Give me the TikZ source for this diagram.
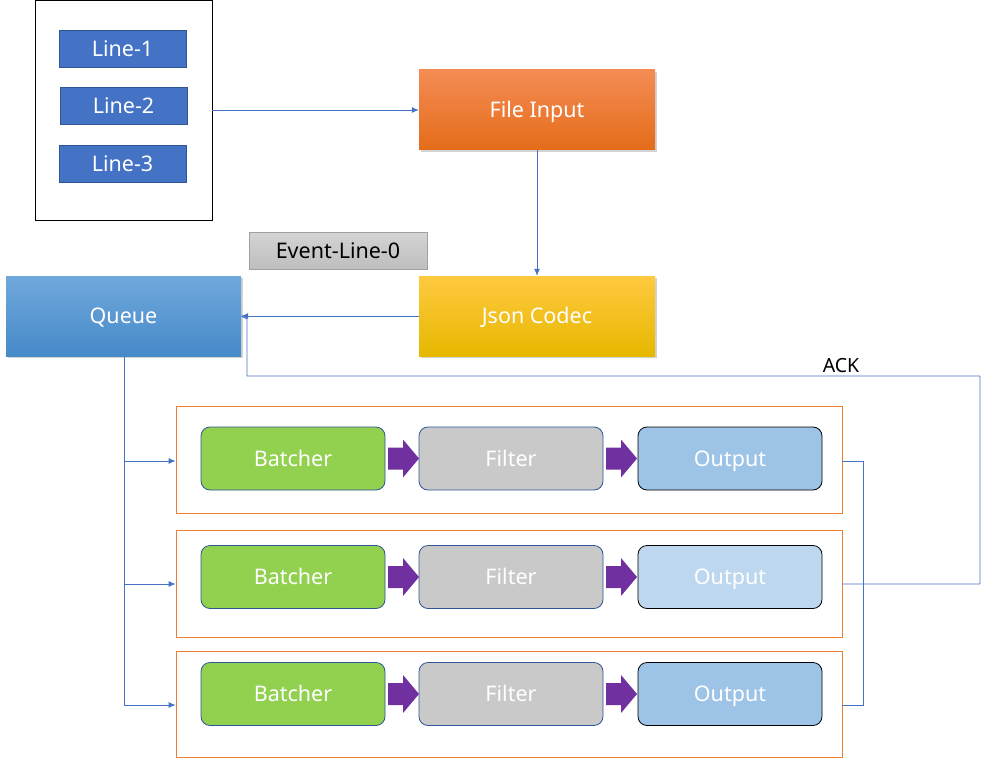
\documentclass[tikz,border=0pt]{standalone}
\usepackage{fontspec}
\setmainfont{Noto Sans}
\usetikzlibrary{shapes.arrows,shadows,arrows.meta}
\definecolor{lblue}{HTML}{4472C4}
\definecolor{lbord}{HTML}{2F5597}
\definecolor{orng}{HTML}{ED7D31}
\definecolor{grn}{HTML}{92D050}
\definecolor{gry}{HTML}{C9C9C9}
\definecolor{outb}{HTML}{9DC3E6}
\definecolor{outl}{HTML}{BDD7EE}
\definecolor{purp}{HTML}{7030A0}
\definecolor{fiT}{HTML}{F48C54}
\definecolor{fiM}{HTML}{F47C30}
\definecolor{fiB}{HTML}{E46C1A}
\definecolor{jcT}{HTML}{FFC940}
\definecolor{jcM}{HTML}{FFC000}
\definecolor{jcB}{HTML}{E6B800}
\definecolor{qT}{HTML}{70A8DC}
\definecolor{qM}{HTML}{5B9BD7}
\definecolor{qB}{HTML}{468AC8}
\definecolor{evT}{HTML}{D4D4D4}
\definecolor{evB}{HTML}{BEBEBE}
\definecolor{evD}{HTML}{A0A0A0}
\begin{document}
\begin{tikzpicture}[x=1pt,y=-1pt,
  txt/.style={font=\fontsize{21.5}{25}\selectfont,text height=15.4pt,text depth=0pt},
  linebox/.style={draw=lbord,fill=lblue,text=white,txt,minimum width=127pt,minimum height=37pt,inner sep=0pt},
  bigbox/.style={txt,text=white,minimum width=236pt,minimum height=80pt,inner sep=0pt,
     drop shadow={shadow xshift=2pt,shadow yshift=-2pt,opacity=0.35}},
  stage/.style={draw=lbord,rounded corners=9pt,txt,text=white,minimum width=184pt,minimum height=63pt,inner sep=0pt,line width=0.8pt},
  row/.style={draw=orng,line width=0.8pt,minimum width=666pt,inner sep=0pt},
  conn/.style={draw=lblue,line width=0.8pt},
  arr/.style={conn,-{Latex[length=7pt,width=6pt]}},
  parr/.style={fill=purp}
]
\useasboundingbox (0,0) rectangle (981,759);
% source box
\node[draw=black,line width=0.9pt,minimum width=177pt,minimum height=220pt,inner sep=0pt] (src) at (123.5,110) {};
\node[linebox] (l1) at (122.5,48.5) {Line-1};
\node[linebox] (l2) at (123.5,106) {Line-2};
\node[linebox] (l3) at (122.5,163.5) {Line-3};
% main boxes
\node[bigbox,top color=fiT,middle color=fiM,bottom color=fiB] (fi) at (537,110) {File Input};
\node[bigbox,top color=jcT,middle color=jcM,bottom color=jcB] (jc) at (537,316) {Json Codec};
\node[bigbox,minimum width=235pt,top color=qT,middle color=qM,bottom color=qB] (q) at (123.5,316) {Queue};
\node[draw=evD,top color=evT,bottom color=evB,txt,minimum width=178pt,minimum height=37pt,inner sep=0pt] (ev) at (338,250.5) {Event-Line-0};
% connectors top
\draw[arr] (src.east |- fi.west) -- (fi.west);
\draw[arr] (fi.south) -- (jc.north);
\draw[arr] (jc.west) -- (q.east);
% rows
\node[row,minimum height=107pt] (r1) at (509,459.5) {};
\node[row,minimum height=107pt] (r2) at (509,583.5) {};
\node[row,minimum height=106pt] (r3) at (509,704) {};
\foreach \r/\y/\oc in {1/458.5/outb,2/577/outl,3/694/outb}{
  \node[stage,fill=grn] (b\r) at (293,\y) {Batcher};
  \node[stage,fill=gry] (f\r) at (511,\y) {Filter};
  \node[stage,fill=\oc,draw=black] (o\r) at (730,\y) {Output};
  \fill[parr] (388,\y-11) -- (403,\y-11) -- (403,\y-19) -- (419,\y) -- (403,\y+19) -- (403,\y+11) -- (388,\y+11) -- cycle;
  \fill[parr] (606,\y-11) -- (621,\y-11) -- (621,\y-19) -- (637,\y) -- (621,\y+19) -- (621,\y+11) -- (606,\y+11) -- cycle;
}
% queue fan-out
\coordinate (qd) at (124,705);
\draw[conn] (q.south -| qd) -- (qd);
\draw[arr] (124,461) -- (r1.west |- 0,461);
\draw[arr] (124,584) -- (r2.west |- 0,584);
\draw[arr] (124,705) -- (r3.west |- 0,705);
% output collectors
\coordinate (c1) at (863,461);
\coordinate (c3) at (863,705);
\draw[conn] (r1.east |- c1) -- (c1) -- (c3) -- (r3.east |- c3);
% ACK path
\coordinate (a1) at (980,584);
\coordinate (a2) at (980,376);
\coordinate (a3) at (247,376);
\draw[conn] (r2.east |- a1) -- (a1) -- (a2) -- (a3) -- (247,319) -- (q.east);
\node[font=\fontsize{19.5}{22}\selectfont,text height=14pt,text depth=0pt] (ack) at (841,365) {ACK};
\end{tikzpicture}
\end{document}
